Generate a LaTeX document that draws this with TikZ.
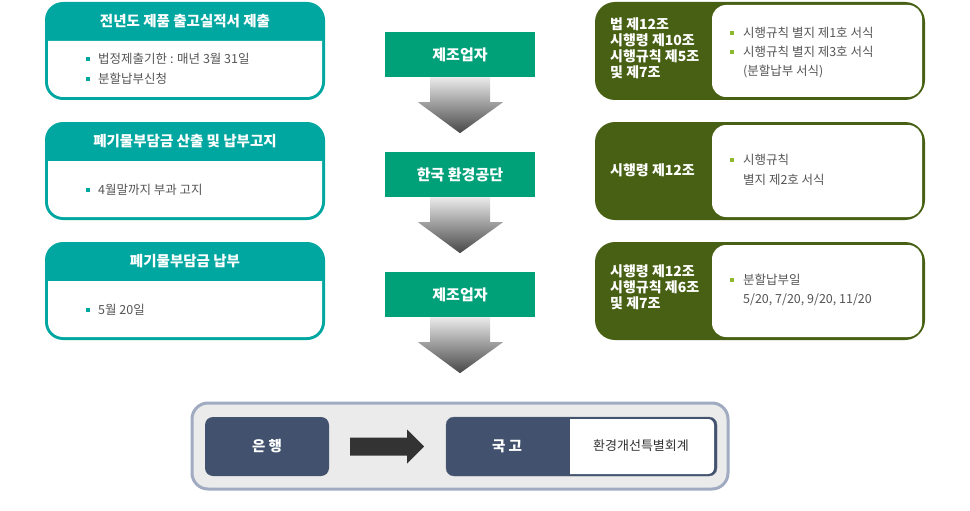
\documentclass[tikz,border=0pt]{standalone}
\usepackage{fontspec}
\setmainfont{Noto Sans CJK KR}
\usetikzlibrary{calc}
\definecolor{teal1}{RGB}{0,166,160}
\definecolor{green1}{RGB}{0,160,120}
\definecolor{olive1}{RGB}{72,96,20}
\definecolor{navy1}{RGB}{66,82,110}
\definecolor{frame1}{RGB}{160,170,192}
\definecolor{panel1}{RGB}{235,235,235}
\definecolor{text1}{RGB}{85,85,85}
\definecolor{bullet1}{RGB}{141,185,46}
% block arrow pointing down, #1 = top centre
\newcommand{\downblock}[1]{%
\shade[top color=black!8, bottom color=black!72] ($(#1)+(-30,0)$) -- ($(#1)+(30,0)$) -- ($(#1)+(30,25)$) -- ($(#1)+(43,25)$) -- ($(#1)+(0,56)$) -- ($(#1)+(-42,25)$) -- ($(#1)+(-30,25)$) -- cycle;}
\begin{document}
\begin{tikzpicture}[x=1pt, y=-1pt,
head/.style={text=white, font=\bfseries\fontsize{14.5}{16}\selectfont},
item/.style={anchor=west, inner sep=0, text=text1, font=\fontsize{12.5}{14}\selectfont},
tsq/.style={fill=teal1, minimum size=3.5pt, inner sep=0},
gsq/.style={fill=bullet1, minimum size=3.5pt, inner sep=0},
law/.style={anchor=west, align=left, inner sep=0, text=white, font=\bfseries\fontsize{14}{16}\selectfont},
mid/.style={fill=green1, minimum width=150, minimum height=45, text=white, font=\bfseries\fontsize{15}{16}\selectfont},
navybox/.style={fill=navy1, rounded corners=8, minimum height=59}]
\useasboundingbox (0,0) rectangle (970,511);

% left column
\fill[teal1, rounded corners=18] (45,2) rectangle (325,100);
\fill[white] (48,41) -- (322,41) -- (322,60) [rounded corners=15] -- (322,97) -- (48,97) -- (48,60) [sharp corners] -- cycle;
\node[head] (hd1) at (185,21) {전년도 제품 출고실적서 제출};
\node[tsq] (s1a) at (88,59) {};
\node[item] (t1a) at (98,59) {법정제출기한 : 매년 3월 31일};
\node[tsq] (s1b) at (88,79) {};
\node[item] (t1b) at (98,79) {분할납부신청};

\fill[teal1, rounded corners=18] (45,122) rectangle (325,220);
\fill[white] (48,161) -- (322,161) -- (322,180) [rounded corners=15] -- (322,217) -- (48,217) -- (48,180) [sharp corners] -- cycle;
\node[head] (hd2) at (185,141) {폐기물부담금 산출 및 납부고지};
\node[tsq] (s2a) at (88,190) {};
\node[item] (t2a) at (98,190) {4월말까지 부과 고지};

\fill[teal1, rounded corners=18] (45,242) rectangle (325,340);
\fill[white] (48,281) -- (322,281) -- (322,300) [rounded corners=15] -- (322,337) -- (48,337) -- (48,300) [sharp corners] -- cycle;
\node[head] (hd3) at (185,261) {폐기물부담금 납부};
\node[tsq] (s3a) at (88,310) {};
\node[item] (t3a) at (98,310) {5월 20일};

% middle column
\node[mid] (m1) at (460,54.5) {제조업자};
\node[mid] (m2) at (460,174.5) {한국 환경공단};
\node[mid] (m3) at (460,294.5) {제조업자};
\downblock{m1.south}
\downblock{m2.south}
\downblock{m3.south}

% right column
\fill[olive1, rounded corners=20] (595,2) rectangle (925,100);
\fill[white, rounded corners=14] (712,5) rectangle (922,97);
\node[law] (law1) at (610,48) {법 제12조\\시행령 제10조\\시행규칙 제5조\\및 제7조};
\node[gsq] (g1a) at (732,33) {};
\node[item] (r1a) at (743,33) {시행규칙 별지 제1호 서식};
\node[gsq] (g1b) at (732,52) {};
\node[item] (r1b) at (743,52) {시행규칙 별지 제3호 서식};
\node[item] (r1c) at (743,72) {(분할납부 서식)};

\fill[olive1, rounded corners=20] (595,122) rectangle (925,220);
\fill[white, rounded corners=14] (712,125) rectangle (922,217);
\node[law] (law2) at (610,170) {시행령 제12조};
\node[gsq] (g2a) at (732,160) {};
\node[item] (r2a) at (743,160) {시행규칙};
\node[item] (r2b) at (743,180) {별지 제2호 서식};

\fill[olive1, rounded corners=20] (595,242) rectangle (925,340);
\fill[white, rounded corners=14] (712,245) rectangle (922,337);
\node[law] (law3) at (610,287) {시행령 제12조\\시행규칙 제6조\\및 제7조};
\node[gsq] (g3a) at (732,280) {};
\node[item] (r3a) at (743,280) {분할납부일};
\node[item] (r3b) at (743,300) {5/20, 7/20, 9/20, 11/20};

% bottom panel
\fill[panel1, draw=frame1, line width=3, rounded corners=16] (192,403) rectangle (728,489);
\node[navybox, minimum width=124, text=white, font=\bfseries\fontsize{14.5}{16}\selectfont] (bank) at (267,446.5) {은 행};
\node[navybox, minimum width=271, draw=navy1!85] (tbox) at (581.5,446.5) {};
\fill[white] (570,474) -- (570,419) -- (650,419) [rounded corners=6] -- (714,419) -- (714,474) -- (650,474) [sharp corners] -- cycle;
\node[text=white, font=\bfseries\fontsize{14.5}{16}\selectfont] (treas) at (507,446) {국 고};
\node[text=black!80, font=\fontsize{13}{14}\selectfont] (fund) at (641,446) {환경개선특별회계};
\shade[top color=black!80, middle color=black!55, bottom color=black!80] ($(bank.east)+(21,-9)$) -- ($(bank.east)+(78,-9)$) -- ($(bank.east)+(78,-17)$) -- ($(bank.east)+(95,0)$) -- ($(bank.east)+(78,17)$) -- ($(bank.east)+(78,9)$) -- ($(bank.east)+(21,9)$) -- cycle;
\end{tikzpicture}
\end{document}
